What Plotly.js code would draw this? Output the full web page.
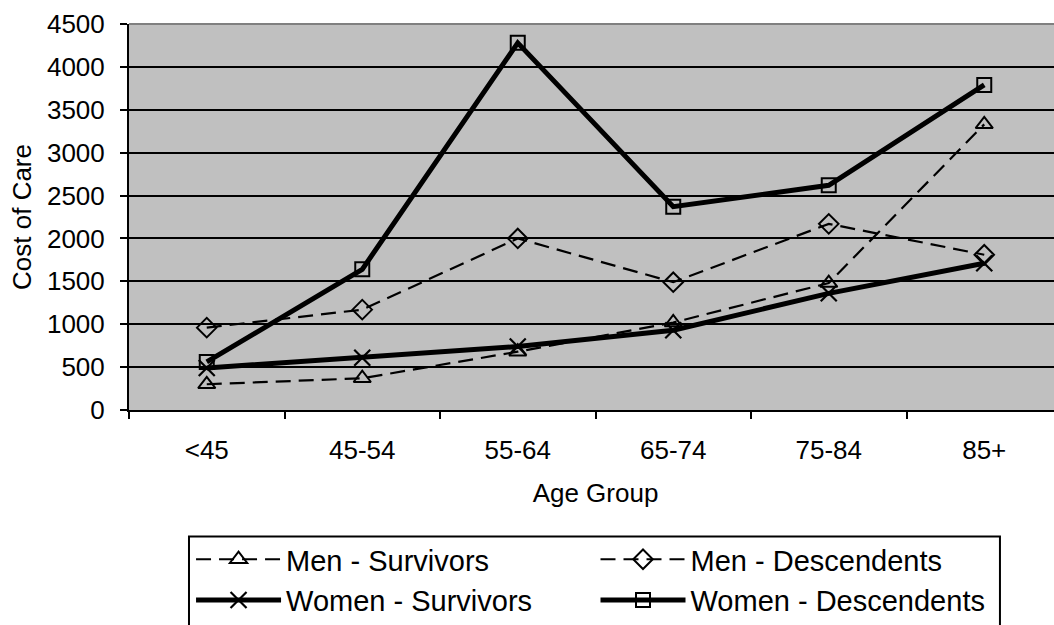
<!DOCTYPE html>
<html>
<head>
<meta charset="utf-8">
<script src="https://cdn.plot.ly/plotly-3.0.1.min.js"></script>
<style>
html, body { margin: 0; padding: 0; overflow: hidden; background: #fff; }
#chart { width: 1064px; height: 625px; }
</style>
</head>
<body>
<div id="chart"></div>
<script>
const ageGroups = ["<45", "45-54", "55-64", "65-74", "75-84", "85+"];
const menSurvivors = [300, 370, 680, 1020, 1480, 3330];
const menDescendents = [960, 1170, 2000, 1490, 2170, 1810];
const womenSurvivors = [490, 610, 740, 930, 1360, 1710];
const womenDescendents = [560, 1640, 4280, 2370, 2620, 3790];
const yTicks = [0, 500, 1000, 1500, 2000, 2500, 3000, 3500, 4000, 4500];

const FONT = "Liberation Sans, Arial, sans-serif";
const TICK = 26;
const LEG = 29;

const traces = [
  {
    x: ageGroups, y: menSurvivors, name: "Men - Survivors", type: "scatter", mode: "lines+markers",
    legend: "legend",
    line: { color: "#000", width: 2.2, dash: "15px,8px" },
    marker: { symbol: "triangle-up-open", size: 15, color: "#000", line: { width: 2, color: "#000" } }
  },
  {
    x: ageGroups, y: menDescendents, name: "Men - Descendents", type: "scatter", mode: "lines+markers",
    legend: "legend2",
    line: { color: "#000", width: 2.2, dash: "15px,8px" },
    marker: { symbol: "diamond-open", size: 15, color: "#000", line: { width: 2, color: "#000" } }
  },
  {
    x: ageGroups, y: womenSurvivors, name: "Women - Survivors", type: "scatter", mode: "lines+markers",
    legend: "legend",
    line: { color: "#000", width: 5 },
    marker: { symbol: "x-thin-open", size: 16, color: "#000", line: { width: 2.2, color: "#000" } }
  },
  {
    x: ageGroups, y: womenDescendents, name: "Women - Descendents", type: "scatter", mode: "lines+markers",
    legend: "legend2",
    line: { color: "#000", width: 5 },
    marker: { symbol: "square-open", size: 14, color: "#000", line: { width: 2, color: "#000" } }
  }
];

const legendCommon = {
  orientation: "v",
  xanchor: "left",
  yanchor: "top",
  bgcolor: "rgba(0,0,0,0)",
  borderwidth: 0,
  font: { family: FONT, size: LEG, color: "#000" },
  itemwidth: 85,
  traceorder: "normal",
  tracegroupgap: 0
};

const layout = {
  width: 1064, height: 625,
  margin: { l: 129, r: 2, t: 24, b: 215, pad: 0, autoexpand: false },
  paper_bgcolor: "#ffffff",
  plot_bgcolor: "#c0c0c0",
  font: { family: FONT, size: TICK, color: "#000" },
  showlegend: true,
  xaxis: {
    type: "category",
    range: [-0.5, 5.5],
    tickson: "boundaries",
    ticks: "outside", ticklen: 7, tickwidth: 2, tickcolor: "#000",
    showgrid: false, zeroline: false,
    showline: true, linecolor: "#000", linewidth: 2,
    tickfont: { family: FONT, size: TICK, color: "#000" },
    ticklabelstandoff: 16,
    title: { text: "Age Group", font: { family: FONT, size: TICK, color: "#000" }, standoff: 20 }
  },
  yaxis: {
    range: [0, 4500],
    tickvals: yTicks,
    ticktext: yTicks.map(String),
    ticks: "outside", ticklen: 7, tickwidth: 2, tickcolor: "#000",
    showgrid: true, gridcolor: "#000", gridwidth: 2,
    zeroline: false,
    showline: true, linecolor: "#000", linewidth: 2,
    tickfont: { family: FONT, size: TICK, color: "#000" },
    ticklabelstandoff: 10,
    title: { text: "Cost of Care", font: { family: FONT, size: TICK, color: "#000" }, standoff: 8 }
  },
  legend: Object.assign({}, legendCommon, { x: 0.0665, y: -0.321 }),
  legend2: Object.assign({}, legendCommon, { x: 0.500, y: -0.321 }),
  shapes: [
    { type: "line", xref: "paper", yref: "paper", x0: 0, x1: 1, y0: 1, y1: 1, line: { color: "#808080", width: 2 } },
    { type: "rect", xref: "paper", yref: "paper", x0: 0.0643, x1: 0.9335, y0: -0.3277, y1: -0.60,
      fillcolor: "rgba(0,0,0,0)", line: { color: "#000", width: 2 } }
  ]
};

Plotly.newPlot("chart", traces, layout, { displayModeBar: false, staticPlot: true });
</script>
</body>
</html>
